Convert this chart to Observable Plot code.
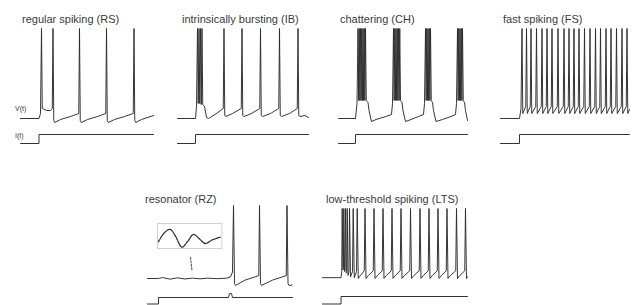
<!DOCTYPE html>
<html><head><meta charset="utf-8">
<script src="https://cdn.jsdelivr.net/npm/d3@7"></script>
<script src="https://cdn.jsdelivr.net/npm/@observablehq/plot@0.6"></script>
<style>
html,body{margin:0;padding:0;background:#fff;}
#fig{position:relative;width:637px;height:305px;overflow:hidden;font-family:"Liberation Sans",Arial,sans-serif;}
.pan{position:absolute;}
.pan svg{overflow:visible;display:block;}
#ov{position:absolute;left:0;top:0;pointer-events:none;}
</style></head><body><div id="fig"></div>
<script>
// ---- Titles ----
const titles = ["regular spiking (RS)", "intrinsically bursting (IB)", "chattering (CH)", "fast spiking (FS)", "resonator (RZ)", "low-threshold spiking (LTS)"];
const panelKeys = ["RS", "IB", "CH", "FS", "RZ", "LTS"];
const PEAK = 30; // mV, spike peak

// ---- Regular spiking (time ms, voltage mV) ----
const rsSpikes = [42, 65, 118, 172, 227];
const rsSubT = [0, 37, 40, 43.5, 52, 60, 63.5, 66.5, 68.5, 80, 100, 116.5, 119.5, 121.5, 134, 154, 170.5, 173.5, 175.5, 188, 208, 225.5, 228.5, 230.5, 242, 266];
const rsSubV = [-60, -60, -55, -50, -52, -52, -50, -62, -64, -61, -58, -55, -62, -64, -61, -58, -55, -62, -64, -61, -58, -55, -62, -64, -61, -57];
const rsIT = [0, 37, 37, 266];
const rsIV = [0, 0, 1, 1];

// ---- Intrinsically bursting ----
const ibSpikes = [40, 43, 46, 49, 93, 129, 166, 204, 241];
const ibSubT = [0, 36, 38, 41.5, 44.5, 47.5, 50.5, 54, 58, 62, 75, 91.5, 94.5, 97, 110, 127.5, 130.5, 133, 148, 164.5, 167.5, 170, 186, 202.5, 205.5, 208, 224, 239.5, 242.5, 245, 255, 262];
const ibSubV = [-60, -60, -48, -45, -45, -46, -46, -48, -59, -60, -56, -50, -57, -58, -55, -50, -57, -58, -55, -50, -57, -58, -55, -50, -57, -58, -55, -50, -57, -58, -57, -59];
const ibIT = [0, 36, 36, 262];
const ibIV = [0, 0, 1, 1];

// ---- Chattering ----
const chSpikes = [39, 41.5, 44, 46.5, 49, 51.5, 54, 110, 112.5, 115, 117.5, 120, 122.5, 174, 176.5, 179, 181.5, 184, 238, 240.5, 243, 245.5, 248];
const chSubT = [0, 34, 37, 40.25, 42.75, 45.25, 47.75, 50.25, 52.75, 55.5, 59, 61, 66, 75, 95, 106, 108, 111.25, 113.75, 116.25, 118.75, 121.25, 124, 127, 129, 134, 145, 160, 170, 172, 175.25, 177.75, 180.25, 182.75, 185.5, 188, 190, 195, 208, 225, 234, 236, 239.25, 241.75, 244.25, 246.75, 249.5, 252, 254, 258];
const chSubV = [-60, -60, -45, -42, -42, -42, -42, -42, -42, -42, -44, -52, -63, -61, -58, -56, -45, -42, -42, -42, -42, -42, -42, -44, -52, -63, -61, -58, -56, -45, -42, -42, -42, -42, -42, -44, -52, -63, -61, -58, -56, -45, -42, -42, -42, -42, -42, -44, -52, -62];
const chIT = [0, 34, 34, 258];
const chIV = [0, 0, 1, 1];

// ---- Fast spiking ----
const fsSpikes = [43, 52, 61, 72, 83, 93, 103, 115, 127, 137, 147, 157, 168, 179, 190, 200, 211, 221, 232, 243, 253];
const fsSubT = [0, 38, 41, 44.5, 50.5, 53.5, 59.5, 62.5, 70.5, 73.5, 81.5, 84.5, 91.5, 94.5, 101.5, 104.5, 113.5, 116.5, 125.5, 128.5, 135.5, 138.5, 145.5, 148.5, 155.5, 158.5, 166.5, 169.5, 177.5, 180.5, 188.5, 191.5, 198.5, 201.5, 209.5, 212.5, 219.5, 222.5, 230.5, 233.5, 241.5, 244.5, 251.5, 254.5, 258];
const fsSubV = [-60, -60, -50, -55, -48, -55, -48, -55, -48, -55, -48, -55, -48, -55, -48, -55, -48, -55, -48, -55, -48, -55, -48, -55, -48, -55, -48, -55, -48, -55, -48, -55, -48, -55, -48, -55, -48, -55, -48, -55, -48, -55, -48, -55, -51];
const fsIT = [0, 38, 38, 258];
const fsIV = [0, 0, 1, 1];

// ---- Resonator ----
const rzSpikes = [172, 224, 279];
const rzSubT = [0, 22, 30, 45, 60, 75, 90, 105, 120, 140, 158, 166, 170, 174, 176, 195, 222.5, 226, 228, 250, 277.5, 281, 283, 289];
const rzSubV = [-60, -60, -58.8, -60.8, -59.2, -60.6, -59.5, -60.4, -59.6, -60.2, -59.6, -58, -52, -66, -68.6, -62, -56.5, -66, -68.6, -62, -56.5, -66, -68.6, -68];
const rzIT = [0, 22, 22, 162, 164, 168, 170, 290];
const rzIV = [0, 0, 1, 1, 1.6, 1.6, 1, 1];
// inset (zoomed subthreshold oscillation) and its pointer
const insetT = [1, 7, 12.7, 18, 24.4, 30, 36, 42, 47.7, 55, 62.7];
const insetV = [-61, -59, -58.3, -59.8, -62.2, -61, -59.4, -60.4, -61.4, -60.6, -60];
const rzPointerT = [86, 89];
const rzPointerV = [-34, -50];

// ---- Low-threshold spiking ----
const ltsSpikes = [39.4, 42.6, 46, 49.4, 54, 61.4, 69.4, 85, 103, 121, 139, 157, 176, 195, 213, 231, 249, 268, 286];
const ltsSubT = [0, 37, 38.5, 40.8, 41.8, 44, 45, 47.5, 48.5, 51, 53, 56, 60, 63.5, 68, 71.5, 76, 83.5, 87, 92, 101.5, 105, 110, 119.5, 123, 128, 137.5, 141, 146, 155.5, 159, 164, 174.5, 178, 183, 193.5, 197, 202, 211.5, 215, 220, 229.5, 233, 238, 247.5, 251, 256, 266.5, 270, 275, 284.5, 288, 290];
const ltsSubV = [-60, -60, -52, -50, -48, -52, -50, -54, -52, -57, -52, -59, -52, -60, -52, -61, -57, -51, -61, -57, -51, -61, -57, -51, -61, -57, -51, -61, -57, -51, -61, -57, -51, -61, -57, -51, -61, -57, -51, -61, -57, -51, -61, -57, -51, -61, -57, -51, -61, -57, -51, -61, -59];
const ltsIT = [0, 37, 37, 290];
const ltsIV = [0, 0, 1, 1];

// ---- layout (pixels) ----
const layout = {
  RS:  {x0: 20,  peakY: 28,    restY: 118,   iLow: 143, iHigh: 134, tx: 22,  ty: 23},
  IB:  {x0: 177, peakY: 28,    restY: 118,   iLow: 143, iHigh: 134, tx: 182, ty: 23},
  CH:  {x0: 338, peakY: 28,    restY: 118,   iLow: 143, iHigh: 134, tx: 340, ty: 23},
  FS:  {x0: 500, peakY: 28,    restY: 118,   iLow: 143, iHigh: 134, tx: 503, ty: 23},
  RZ:  {x0: 147, peakY: 205,   restY: 278,   iLow: 303, iHigh: 296.5, tx: 145, ty: 203},
  LTS: {x0: 322, peakY: 207.5, restY: 276.7, iLow: 303, iHigh: 295.5, tx: 326, ty: 203}
};
const PX_PER_MS = 0.5;
const REST = -60;

const series = {
  RS:  [rsSpikes, rsSubT, rsSubV, rsIT, rsIV],
  IB:  [ibSpikes, ibSubT, ibSubV, ibIT, ibIV],
  CH:  [chSpikes, chSubT, chSubV, chIT, chIV],
  FS:  [fsSpikes, fsSubT, fsSubV, fsIT, fsIV],
  RZ:  [rzSpikes, rzSubT, rzSubV, rzIT, rzIV],
  LTS: [ltsSpikes, ltsSubT, ltsSubV, ltsIT, ltsIV]
};

const fig = document.getElementById("fig");
const STYLE = {background: "transparent", overflow: "visible"};

function place(svg, left, top, w, h) {
  const d = document.createElement("div");
  d.className = "pan";
  d.style.left = left + "px"; d.style.top = top + "px";
  d.style.width = w + "px"; d.style.height = h + "px";
  d.appendChild(svg);
  fig.appendChild(d);
}

function trace(spikes, subT, subV) {
  const pts = subT.map((t, i) => ({t, v: subV[i]}));
  spikes.forEach(s => pts.push({t: s, v: PEAK}));
  pts.sort((a, b) => a.t - b.t);
  return pts;
}

panelKeys.forEach(k => {
  const L = layout[k];
  const [spikes, subT, subV, iT, iV] = series[k];
  const tEnd = Math.max(subT[subT.length - 1], iT[iT.length - 1]);
  const w = tEnd * PX_PER_MS;
  const vh = L.restY - L.peakY;
  const vData = trace(spikes, subT, subV);
  const marks = [Plot.line(vData, {x: "t", y: "v", stroke: "#2b2b2b", strokeWidth: 0.95})];
  if (k === "RZ") {
    const ptr = rzPointerT.map((t, i) => ({t, v: rzPointerV[i]}));
    marks.push(Plot.line(ptr, {x: "t", y: "v", stroke: "#444", strokeWidth: 1, strokeDasharray: "2,1.5"}));
  }
  place(Plot.plot({
    width: w, height: vh, margin: 0,
    x: {domain: [0, tEnd], axis: null},
    y: {domain: [REST, PEAK], axis: null},
    style: STYLE, marks
  }), L.x0, L.peakY, w, vh);

  const ih = L.iLow - L.iHigh;
  const iData = iT.map((t, i) => ({t, c: iV[i]}));
  place(Plot.plot({
    width: w, height: ih, margin: 0,
    x: {domain: [0, tEnd], axis: null},
    y: {domain: [0, 1], axis: null},
    style: STYLE,
    marks: [Plot.line(iData, {x: "t", y: "c", stroke: "#333", strokeWidth: 1})]
  }), L.x0, L.iHigh, w, ih);
});

// inset for the resonator
{
  const iw = 64.4, ih = 25;
  const data = insetT.map((t, i) => ({t, v: insetV[i]}));
  place(Plot.plot({
    width: iw, height: ih, margin: 0,
    x: {domain: [0, iw], axis: null},
    y: {domain: [-62.5, -57], axis: null},
    style: STYLE,
    marks: [
      Plot.frame({stroke: "#cfcfcf", strokeWidth: 1}),
      Plot.line(data, {x: "t", y: "v", curve: "catmull-rom", stroke: "#333", strokeWidth: 1.3, strokeDasharray: "2.5,1"})
    ]
  }), 157.3, 223.3, iw, ih);
}

// text overlay
const NS = "http://www.w3.org/2000/svg";
const ov = document.createElementNS(NS, "svg");
ov.setAttribute("id", "ov");
ov.setAttribute("width", 637); ov.setAttribute("height", 305);
function addText(str, x, y, size) {
  const t = document.createElementNS(NS, "text");
  t.setAttribute("x", x); t.setAttribute("y", y);
  t.setAttribute("font-size", size);
  t.setAttribute("font-family", "'Liberation Sans', Arial, sans-serif");
  t.setAttribute("fill", "#3a3a3a");
  t.textContent = str;
  ov.appendChild(t);
}
panelKeys.forEach((k, i) => addText(titles[i], layout[k].tx, layout[k].ty, 11));
addText("V(t)", 15, 110.5, 7);
addText("I(t)", 15, 137.5, 7);
fig.appendChild(ov);
</script></body></html>
